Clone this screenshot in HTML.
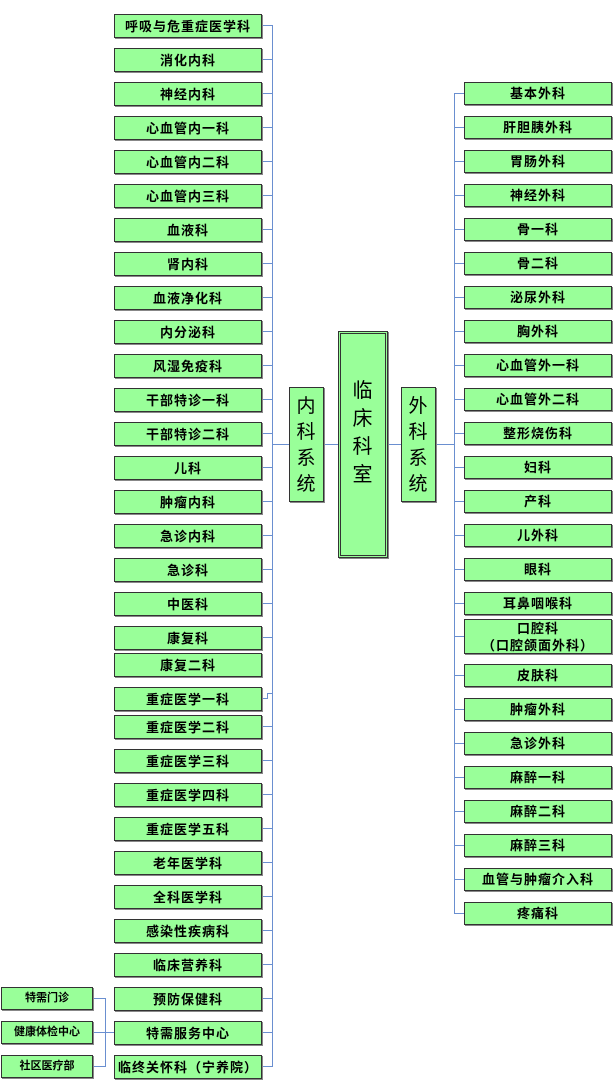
<!DOCTYPE html>
<html><head><meta charset="utf-8">
<style>
*{margin:0;padding:0;box-sizing:border-box}
body{width:613px;height:1092px;background:#fff;position:relative;overflow:hidden;font-family:"Liberation Sans","Noto Sans CJK SC","WenQuanYi Zen Hei",sans-serif}
.b{position:absolute;background:#99ff99;border:1px solid #333;box-shadow:1px 1px 0 #888;font-weight:bold;font-size:13px;color:#000;display:flex;align-items:center;justify-content:center;text-align:center;line-height:17px;letter-spacing:1px}
.L{left:114px;width:148px;height:24px}
.R{left:464px;width:148px;height:23px}
.S{left:1px;width:92px;height:23px;font-size:11px;letter-spacing:0}
.h{position:absolute;height:1px;background:#6a8fd0}
.v{position:absolute;width:1px;background:#6a8fd0}
</style></head><body>
<div class="v" style="left:272px;top:25px;height:1042px"></div>
<div class="v" style="left:454px;top:93px;height:821px"></div>
<div class="v" style="left:105px;top:998px;height:69px"></div>
<div class="h" style="left:272px;top:444px;width:18px"></div>
<div class="h" style="left:323px;top:444px;width:17px"></div>
<div class="h" style="left:387px;top:444px;width:15px"></div>
<div class="h" style="left:435px;top:444px;width:19px"></div>

<div class="h" style="left:262px;top:25px;width:10px"></div>
<div class="h" style="left:262px;top:59px;width:10px"></div>
<div class="h" style="left:262px;top:93px;width:10px"></div>
<div class="h" style="left:262px;top:127px;width:10px"></div>
<div class="h" style="left:262px;top:161px;width:10px"></div>
<div class="h" style="left:262px;top:195px;width:10px"></div>
<div class="h" style="left:262px;top:229px;width:10px"></div>
<div class="h" style="left:262px;top:263px;width:10px"></div>
<div class="h" style="left:262px;top:297px;width:10px"></div>
<div class="h" style="left:262px;top:331px;width:10px"></div>
<div class="h" style="left:262px;top:365px;width:10px"></div>
<div class="h" style="left:262px;top:399px;width:10px"></div>
<div class="h" style="left:262px;top:433px;width:10px"></div>
<div class="h" style="left:262px;top:467px;width:10px"></div>
<div class="h" style="left:262px;top:501px;width:10px"></div>
<div class="h" style="left:262px;top:535px;width:10px"></div>
<div class="h" style="left:262px;top:569px;width:10px"></div>
<div class="h" style="left:262px;top:603px;width:10px"></div>
<div class="h" style="left:262px;top:637px;width:10px"></div>
<div class="h" style="left:262px;top:698px;width:5px"></div>
<div class="v" style="left:267px;top:693px;height:6px"></div>
<div class="h" style="left:267px;top:693px;width:5px"></div>
<div class="h" style="left:262px;top:726px;width:10px"></div>
<div class="h" style="left:262px;top:760px;width:10px"></div>
<div class="h" style="left:262px;top:794px;width:10px"></div>
<div class="h" style="left:262px;top:828px;width:10px"></div>
<div class="h" style="left:262px;top:862px;width:10px"></div>
<div class="h" style="left:262px;top:896px;width:10px"></div>
<div class="h" style="left:262px;top:930px;width:10px"></div>
<div class="h" style="left:262px;top:964px;width:10px"></div>
<div class="h" style="left:262px;top:998px;width:10px"></div>
<div class="h" style="left:262px;top:1032px;width:10px"></div>
<div class="h" style="left:262px;top:1066px;width:10px"></div>
<div class="h" style="left:93px;top:998px;width:12px"></div>
<div class="h" style="left:93px;top:1032px;width:12px"></div>
<div class="h" style="left:93px;top:1066px;width:12px"></div>
<div class="h" style="left:105px;top:1032px;width:9px"></div>

<div class="h" style="left:454px;top:93px;width:10px"></div>
<div class="h" style="left:454px;top:127px;width:10px"></div>
<div class="h" style="left:454px;top:161px;width:10px"></div>
<div class="h" style="left:454px;top:195px;width:10px"></div>
<div class="h" style="left:454px;top:229px;width:10px"></div>
<div class="h" style="left:454px;top:263px;width:10px"></div>
<div class="h" style="left:454px;top:297px;width:10px"></div>
<div class="h" style="left:454px;top:331px;width:10px"></div>
<div class="h" style="left:454px;top:365px;width:10px"></div>
<div class="h" style="left:454px;top:399px;width:10px"></div>
<div class="h" style="left:454px;top:433px;width:10px"></div>
<div class="h" style="left:454px;top:467px;width:10px"></div>
<div class="h" style="left:454px;top:501px;width:10px"></div>
<div class="h" style="left:454px;top:535px;width:10px"></div>
<div class="h" style="left:454px;top:569px;width:10px"></div>
<div class="h" style="left:454px;top:603px;width:10px"></div>
<div class="h" style="left:454px;top:636px;width:10px"></div>
<div class="h" style="left:454px;top:675px;width:10px"></div>
<div class="h" style="left:454px;top:709px;width:10px"></div>
<div class="h" style="left:454px;top:743px;width:10px"></div>
<div class="h" style="left:454px;top:777px;width:10px"></div>
<div class="h" style="left:454px;top:811px;width:10px"></div>
<div class="h" style="left:454px;top:845px;width:10px"></div>
<div class="h" style="left:454px;top:879px;width:10px"></div>
<div class="h" style="left:454px;top:913px;width:10px"></div>

<div class="b L" style="top:14px">呼吸与危重症医学科</div>
<div class="b L" style="top:48px">消化内科</div>
<div class="b L" style="top:82px">神经内科</div>
<div class="b L" style="top:116px">心血管内一科</div>
<div class="b L" style="top:150px">心血管内二科</div>
<div class="b L" style="top:184px">心血管内三科</div>
<div class="b L" style="top:218px">血液科</div>
<div class="b L" style="top:252px">肾内科</div>
<div class="b L" style="top:286px">血液净化科</div>
<div class="b L" style="top:320px">内分泌科</div>
<div class="b L" style="top:354px">风湿免疫科</div>
<div class="b L" style="top:388px">干部特诊一科</div>
<div class="b L" style="top:422px">干部特诊二科</div>
<div class="b L" style="top:456px">儿科</div>
<div class="b L" style="top:490px">肿瘤内科</div>
<div class="b L" style="top:524px">急诊内科</div>
<div class="b L" style="top:558px">急诊科</div>
<div class="b L" style="top:592px">中医科</div>
<div class="b L" style="top:626px">康复科</div>
<div class="b L" style="top:653px">康复二科</div>
<div class="b L" style="top:687px">重症医学一科</div>
<div class="b L" style="top:715px">重症医学二科</div>
<div class="b L" style="top:749px">重症医学三科</div>
<div class="b L" style="top:783px">重症医学四科</div>
<div class="b L" style="top:817px">重症医学五科</div>
<div class="b L" style="top:851px">老年医学科</div>
<div class="b L" style="top:885px">全科医学科</div>
<div class="b L" style="top:919px">感染性疾病科</div>
<div class="b L" style="top:953px">临床营养科</div>
<div class="b L" style="top:987px">预防保健科</div>
<div class="b L" style="top:1021px">特需服务中心</div>
<div class="b L" style="top:1055px">临终关怀科（宁养院）</div>

<div class="b S" style="top:987px">特需门诊</div>
<div class="b S" style="top:1021px">健康体检中心</div>
<div class="b S" style="top:1055px">社区医疗部</div>

<div class="b R" style="top:82px">基本外科</div>
<div class="b R" style="top:116px">肝胆胰外科</div>
<div class="b R" style="top:150px">胃肠外科</div>
<div class="b R" style="top:184px">神经外科</div>
<div class="b R" style="top:218px">骨一科</div>
<div class="b R" style="top:252px">骨二科</div>
<div class="b R" style="top:286px">泌尿外科</div>
<div class="b R" style="top:320px">胸外科</div>
<div class="b R" style="top:354px">心血管外一科</div>
<div class="b R" style="top:388px">心血管外二科</div>
<div class="b R" style="top:422px">整形烧伤科</div>
<div class="b R" style="top:456px">妇科</div>
<div class="b R" style="top:490px">产科</div>
<div class="b R" style="top:524px">儿外科</div>
<div class="b R" style="top:558px">眼科</div>
<div class="b R" style="top:592px">耳鼻咽喉科</div>
<div class="b R" style="top:619px;height:35px">口腔科<br>（口腔颌面外科）</div>
<div class="b R" style="top:664px">皮肤科</div>
<div class="b R" style="top:698px">肿瘤外科</div>
<div class="b R" style="top:732px">急诊外科</div>
<div class="b R" style="top:766px">麻醉一科</div>
<div class="b R" style="top:800px">麻醉二科</div>
<div class="b R" style="top:834px">麻醉三科</div>
<div class="b R" style="top:868px">血管与肿瘤介入科</div>
<div class="b R" style="top:902px">疼痛科</div>

<div class="b" style="left:289px;top:387px;width:35px;height:115px;font-size:19px;font-weight:normal;line-height:26px;padding-top:2px">内<br>科<br>系<br>统</div>
<div class="b" style="left:401px;top:387px;width:35px;height:115px;font-size:19px;font-weight:normal;line-height:26px;padding-top:2px">外<br>科<br>系<br>统</div>
<div class="b" style="left:338px;top:331px;width:50px;height:227px;border:3px double #333;font-size:20px;font-weight:normal;line-height:28px;padding-bottom:24px">临<br>床<br>科<br>室</div>
</body></html>
